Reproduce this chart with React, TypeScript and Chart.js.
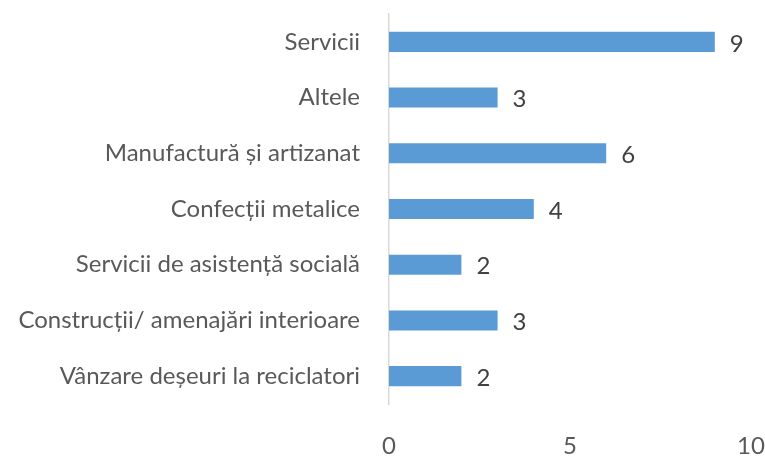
import React, { useEffect, useRef } from "react";
import { Chart, registerables } from "chart.js";

Chart.register(...registerables);

const categories = [
  "Servicii",
  "Altele",
  "Manufactură și artizanat",
  "Confecții metalice",
  "Servicii de asistență socială",
  "Construcții/ amenajări interioare",
  "Vânzare deșeuri la reciclatori",
];
const values = [9, 3, 6, 4, 2, 3, 2];
const xTicks = [0, 5, 10];

const FONT = "Lato, 'Open Sans', sans-serif";
const SIZE = 24;

const valueLabels = {
  id: "valueLabels",
  afterDatasetsDraw(chart: any) {
    const ctx = chart.ctx;
    const meta = chart.getDatasetMeta(0);
    ctx.save();
    ctx.font = `${SIZE}px ${FONT}`;
    ctx.fillStyle = "#404040";
    ctx.textAlign = "left";
    ctx.textBaseline = "middle";
    meta.data.forEach((bar: any, i: number) => {
      ctx.fillText(String(values[i]), bar.x + 15, bar.y + 2);
    });
    ctx.restore();
  },
};

const zeroPad = (s: any) => {
  s.paddingLeft = 0;
  s.paddingRight = 0;
  s.paddingTop = 0;
  s.paddingBottom = 0;
};

export default function App() {
  const ref = useRef<HTMLCanvasElement>(null);
  useEffect(() => {
    document.body.style.margin = "0";
    const chart = new Chart(ref.current!, {
      type: "bar",
      data: {
        labels: categories,
        datasets: [
          {
            data: values,
            backgroundColor: "#5B9BD5",
            borderWidth: 0,
            categoryPercentage: 1,
            barPercentage: 0.36,
          },
        ],
      },
      options: {
        indexAxis: "y",
        responsive: false,
        animation: false,
        layout: { padding: { top: 14, right: 14, left: 0, bottom: 0 } },
        plugins: { legend: { display: false }, tooltip: { enabled: false } },
        scales: {
          x: {
            min: 0,
            max: 10,
            afterBuildTicks: (s: any) => {
              s.ticks = xTicks.map((v) => ({ value: v }));
            },
            afterFit: (s: any) => {
              s.height = 53;
              zeroPad(s);
            },
            grid: { display: false },
            border: { display: false },
            ticks: {
              padding: 20,
              color: "#595959",
              font: { family: FONT, size: SIZE },
            },
          },
          y: {
            afterFit: (s: any) => {
              s.width = 389;
              zeroPad(s);
            },
            grid: { display: false },
            border: { display: true, color: "#D9D9D9", width: 1.5 },
            ticks: {
              padding: 21,
              color: "#595959",
              font: { family: FONT, size: SIZE },
            },
          },
        },
      },
      plugins: [valueLabels],
    });
    return () => chart.destroy();
  }, []);
  return (
    <div style={{ width: 765, height: 457 }}>
      <canvas ref={ref} width={765} height={457} />
    </div>
  );
}
